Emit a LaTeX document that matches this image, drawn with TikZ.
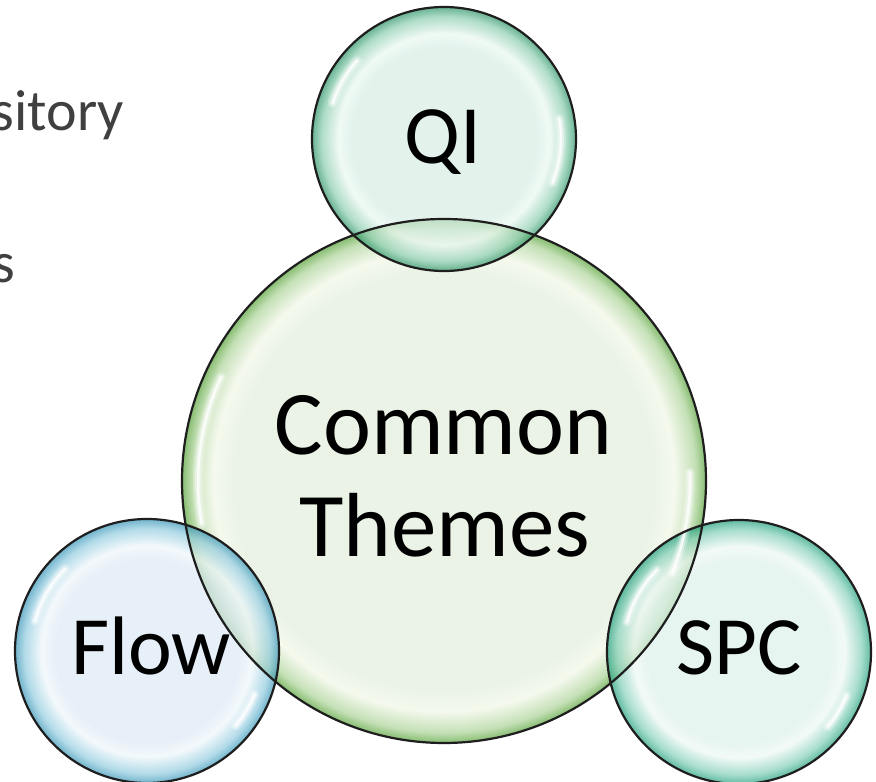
\documentclass[tikz,border=0pt]{standalone}
\usepackage{fontspec}
\setmainfont{Carlito}

% bubble palettes: inner, highlight ring, mid band, rim
\definecolor{coreIn}{HTML}{EAF3E6}
\definecolor{coreHi}{HTML}{F5F9EE}
\definecolor{coreMid}{HTML}{C4E0B6}
\definecolor{coreEdge}{HTML}{86BC70}
\definecolor{qiIn}{HTML}{D8EEE5}
\definecolor{qiHi}{HTML}{EAF7F1}
\definecolor{qiMid}{HTML}{8FCFB2}
\definecolor{qiEdge}{HTML}{2E9468}
\definecolor{flIn}{HTML}{DEEAF5}
\definecolor{flHi}{HTML}{EEF6FA}
\definecolor{flMid}{HTML}{95CDE0}
\definecolor{flEdge}{HTML}{3A96B8}
\definecolor{spIn}{HTML}{DEF1EC}
\definecolor{spHi}{HTML}{EEF8F5}
\definecolor{spMid}{HTML}{86D0BA}
\definecolor{spEdge}{HTML}{23A07E}
\definecolor{bodytext}{HTML}{404040}
\definecolor{rimline}{HTML}{1E1E1E}

% the path's box maps onto the central 50bp of a shading, so the rim sits at 25bp
\pgfdeclareradialshading{coreshade}{\pgfpoint{0bp}{0bp}}{color(0bp)=(coreIn); color(20bp)=(coreIn); color(22bp)=(coreHi); color(24bp)=(coreMid); color(25bp)=(coreEdge); color(50bp)=(coreEdge)}
\pgfdeclareradialshading{qishade}{\pgfpoint{0bp}{0bp}}{color(0bp)=(qiIn); color(17.5bp)=(qiIn); color(20bp)=(qiHi); color(23.2bp)=(qiMid); color(25bp)=(qiEdge); color(50bp)=(qiEdge)}
\pgfdeclareradialshading{flowshade}{\pgfpoint{0bp}{0bp}}{color(0bp)=(flIn); color(17.5bp)=(flIn); color(20bp)=(flHi); color(23.2bp)=(flMid); color(25bp)=(flEdge); color(50bp)=(flEdge)}
\pgfdeclareradialshading{spcshade}{\pgfpoint{0bp}{0bp}}{color(0bp)=(spIn); color(17.5bp)=(spIn); color(20bp)=(spHi); color(23.2bp)=(spMid); color(25bp)=(spEdge); color(50bp)=(spEdge)}

% soft white glint along the inside of a bubble: centre, radius, start, end
\newcommand\glint[4]{%
  \draw[white, line cap=round, line width=10pt, opacity=0.25]
    ([shift={(#3:#2)}]#1) arc[start angle=#3, end angle=#4, radius=#2];
  \draw[white, line cap=round, line width=6pt, opacity=0.4]
    ([shift={(#3:#2)}]#1) arc[start angle=#3, end angle=#4, radius=#2];
  \draw[white, line cap=round, line width=2.5pt, opacity=0.8]
    ([shift={(#3:#2)}]#1) arc[start angle=#3, end angle=#4, radius=#2];
}

\begin{document}
\begin{tikzpicture}[x=1pt, y=1pt,
  rim/.style={circle, draw=rimline, line width=2.2pt, inner sep=0pt, outer sep=0pt},
  bigword/.style={inner sep=0pt, anchor=base, font=\fontsize{91}{102}\selectfont},
  smallword/.style={inner sep=0pt, anchor=base, font=\fontsize{83}{96}\selectfont},
  bodyword/.style={inner sep=0pt, anchor=base east, text=bodytext, font=\fontsize{58}{70}\selectfont}]
\useasboundingbox (0,0) rectangle (876,782);

% bubble centres
\coordinate (coreC) at (444,301);
\coordinate (qiC)   at (444,643);
\coordinate (flowC) at (147,131);
\coordinate (spcC)  at (739,130);

% slide text running behind the bubbles
\node[bodyword] (line1) at (124,651) {sitory};
\node[bodyword] (line2) at (15,499) {s};

% translucent bubble bodies
\shade[shading=coreshade] (coreC) circle[radius=262];
\shade[shading=qishade,   fill opacity=0.72] (qiC)   circle[radius=132];
\shade[shading=flowshade, fill opacity=0.72] (flowC) circle[radius=132];
\shade[shading=spcshade,  fill opacity=0.72] (spcC)  circle[radius=132];

% glints
\glint{coreC}{246}{155}{190}
\glint{coreC}{246}{-22}{2}
\glint{qiC}{117}{138}{162}
\glint{qiC}{117}{-22}{10}
\glint{flowC}{116}{135}{165}
\glint{flowC}{116}{-40}{-22}
\glint{spcC}{116}{135}{165}
\glint{spcC}{116}{-40}{-22}

% rims
\node[rim, minimum size=524pt] (core) at (coreC) {};
\node[rim, minimum size=264pt] (qi)   at (qiC) {};
\node[rim, minimum size=264pt] (flow) at (flowC) {};
\node[rim, minimum size=264pt] (spc)  at (spcC) {};

% labels
\node[bigword]   (common) at (443.5,327) {Common};
\node[bigword]   (themes) at (445,225) {Themes};
\node[smallword] (qitext) at (443,618) {QI};
\node[smallword] (flowtext) at (151,107) {Flow};
\node[smallword] (spctext) at (739.5,107) {SPC};
\end{tikzpicture}
\end{document}
